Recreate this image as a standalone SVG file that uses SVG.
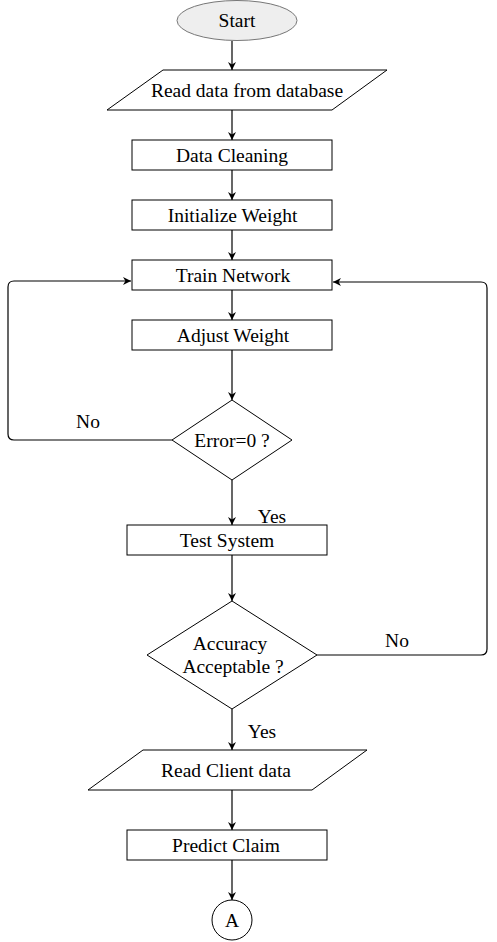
<svg xmlns="http://www.w3.org/2000/svg" width="497" height="942" viewBox="0 0 497 942">
<style>
.s{fill:#fff;stroke:#000;stroke-width:1}
.t{font-family:"Liberation Serif","Times New Roman",serif;font-size:19.5px;fill:#000;text-anchor:middle}
.c{fill:none;stroke:#000;stroke-width:1.2}
</style>
<defs>
<marker id="a" viewBox="0 0 10 10" refX="10" refY="5" markerWidth="8" markerHeight="8" markerUnits="userSpaceOnUse" orient="auto">
<path d="M0,0 L10,5 L0,10 L3,5 Z" fill="#000"/>
</marker>
</defs>
<rect width="497" height="942" fill="#fff"/>
<g id="connectors">
<path class="c" d="M232,41 V70" marker-end="url(#a)"/>
<path class="c" d="M232,110 V140" marker-end="url(#a)"/>
<path class="c" d="M232,170 V200" marker-end="url(#a)"/>
<path class="c" d="M232,230 V260" marker-end="url(#a)"/>
<path class="c" d="M232,290 V320" marker-end="url(#a)"/>
<path class="c" d="M232,350 V400" marker-end="url(#a)"/>
<path class="c" d="M172,440 H14 Q8,440 8,434 V287 Q8,281 14,281 H131" marker-end="url(#a)"/>
<path class="c" d="M232,480 V525" marker-end="url(#a)"/>
<path class="c" d="M232,555 V601" marker-end="url(#a)"/>
<path class="c" d="M317,655 H481 Q487,655 487,649 V288 Q487,282 481,282 H333" marker-end="url(#a)"/>
<path class="c" d="M232,709 V750" marker-end="url(#a)"/>
<path class="c" d="M232,790 V830" marker-end="url(#a)"/>
<path class="c" d="M232,860 V900" marker-end="url(#a)"/>
<text class="t" x="88" y="428">No</text>
<text class="t" x="272" y="523">Yes</text>
<text class="t" x="397" y="647">No</text>
<text class="t" x="262" y="738">Yes</text>
</g>
<g id="start">
<ellipse cx="237" cy="20.5" rx="60" ry="20" fill="#eeeeee" stroke="#777" stroke-width="1"/>
<text class="t" x="237" y="27">Start</text>
</g>
<g id="read-db">
<polygon class="s" points="163,70 387,70 332,110 107,110"/>
<text class="t" x="247" y="97">Read data from database</text>
</g>
<g id="cleaning">
<rect class="s" x="132" y="140" width="200" height="30"/>
<text class="t" x="232" y="161.5">Data Cleaning</text>
</g>
<g id="init">
<rect class="s" x="132" y="200" width="200" height="30"/>
<text class="t" x="232.5" y="222">Initialize Weight</text>
</g>
<g id="train">
<rect class="s" x="132" y="260" width="200" height="30"/>
<text class="t" x="233" y="282">Train Network</text>
</g>
<g id="adjust">
<rect class="s" x="132" y="320" width="200" height="30"/>
<text class="t" x="233" y="342">Adjust Weight</text>
</g>
<g id="error">
<polygon class="s" points="232,400 292,440 232,480 172,440"/>
<text class="t" x="232" y="447">Error=0 ?</text>
</g>
<g id="test">
<rect class="s" x="127" y="525" width="200" height="30"/>
<text class="t" x="227" y="547">Test System</text>
</g>
<g id="accuracy">
<polygon class="s" points="232,601 317,655 232,709 147,655"/>
<text class="t" x="230" y="650">Accuracy</text>
<text class="t" x="233" y="673">Acceptable ?</text>
</g>
<g id="read-client">
<polygon class="s" points="143,750 367,750 312,790 88,790"/>
<text class="t" x="226" y="777">Read Client data</text>
</g>
<g id="predict">
<rect class="s" x="127" y="830" width="200" height="30"/>
<text class="t" x="226" y="852">Predict Claim</text>
</g>
<g id="connector-a">
<circle class="s" cx="232" cy="920" r="20"/>
<text class="t" x="232" y="927">A</text>
</g>
</svg>
